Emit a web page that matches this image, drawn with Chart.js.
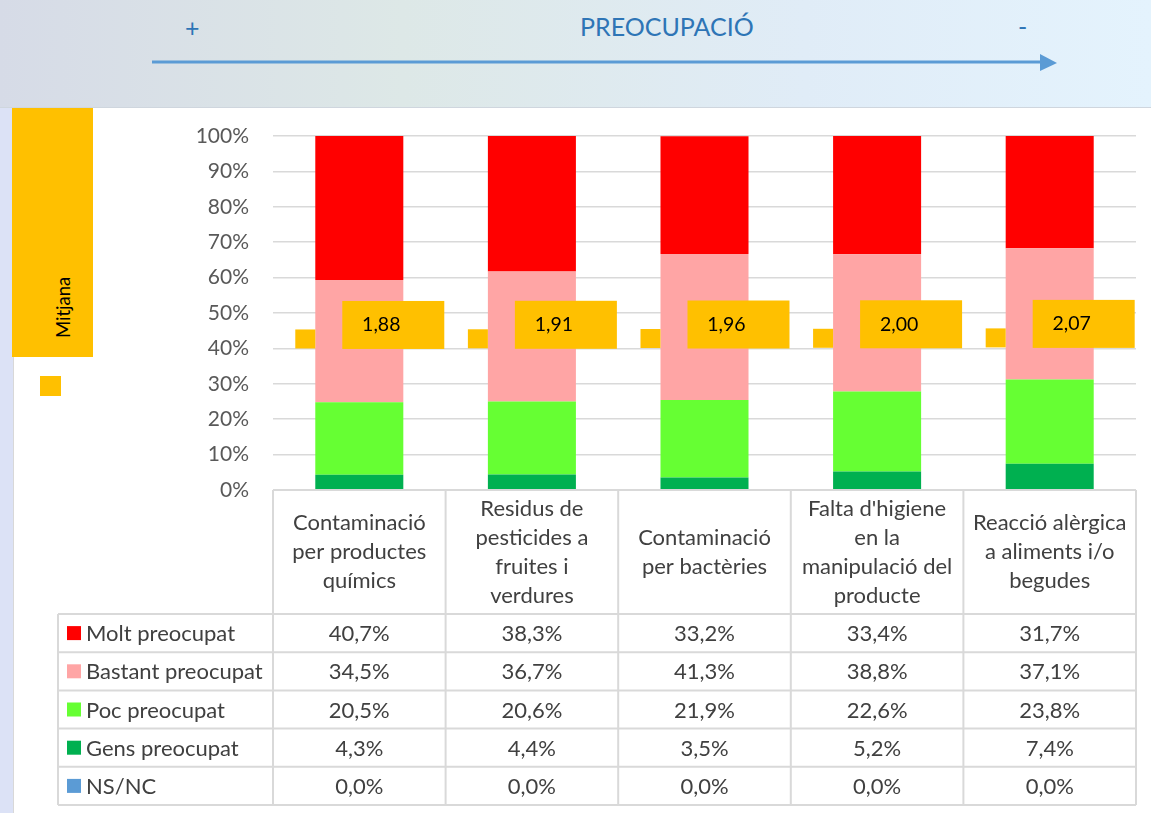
<!DOCTYPE html>
<html>
<head>
<meta charset="utf-8">
<script src="https://cdn.jsdelivr.net/npm/chart.js@4.4.1/dist/chart.umd.min.js"></script>
<style>
  html, body { margin: 0; padding: 0; }
  body { width: 1151px; height: 813px; position: relative; overflow: hidden; background: #dce2f6; font-family: Lato, "Open Sans", sans-serif; }
  #header { position: absolute; left: 0; top: 0; width: 1151px; height: 107px;
    background: linear-gradient(90deg, #d6dbe7 0%, #dde8e7 35%, #e0ecf7 70%, #e4f3fd 100%);
    border-bottom: 1px solid #cfd6de; }
  #panel { position: absolute; left: 13px; top: 108px; width: 1138px; height: 705px; background: #fff; border-left: 1px solid #d8d8d8; }
  .hd { position: absolute; color: #2e75b6; font-size: 25px; line-height: 1; }
  #mitjana { position: absolute; left: 12px; top: 108px; width: 81px; height: 249px; background: #ffc000; }
  #mitjLabel { position: absolute; left: 54px; top: 338px; transform: rotate(-90deg); transform-origin: 0 0;
    font-size: 18.5px; color: #000; line-height: 1; }
  #mitjSq { position: absolute; left: 40px; top: 376px; width: 21px; height: 20px; background: #ffc000; }
  canvas { position: absolute; left: 0; top: 0; }
</style>
</head>
<body>
<div id="header">
  <div class="hd" style="left:185px; top:15px;">+</div>
  <div class="hd" style="left:580px; top:14px;">PREOCUPACIÓ</div>
  <div class="hd" style="left:1018px; top:14px;">-</div>
  <svg width="1151" height="107" style="position:absolute;left:0;top:0">
    <line x1="152" y1="62" x2="1042" y2="62" stroke="#5b9bd5" stroke-width="3"/>
    <polygon points="1040,54 1057,63 1040,71" fill="#5b9bd5"/>
  </svg>
</div>
<div id="panel"></div>
<div id="mitjana"></div>
<div id="mitjLabel">Mitjana</div>
<div id="mitjSq"></div>
<canvas id="chart" width="1151" height="813"></canvas>
<script>
// categories (header lines of the data table)
const categories = [
  ['Contaminació', 'per productes', 'químics'],
  ['Residus de', 'pesticides a', 'fruites i', 'verdures'],
  ['Contaminació', 'per bactèries'],
  ["Falta d'higiene", 'en la', 'manipulació del', 'producte'],
  ['Reacció alèrgica', 'a aliments i/o', 'begudes']
];
const seriesNames = ['Molt preocupat', 'Bastant preocupat', 'Poc preocupat', 'Gens preocupat', 'NS/NC'];
const molt = [40.7, 38.3, 33.2, 33.4, 31.7];
const bastant = [34.5, 36.7, 41.3, 38.8, 37.1];
const poc = [20.5, 20.6, 21.9, 22.6, 23.8];
const gens = [4.3, 4.4, 3.5, 5.2, 7.4];
const nsnc = [0, 0, 0, 0, 0];
const mitjana = [1.88, 1.91, 1.96, 2.00, 2.07];
const yTickStep = 10;

const colors = ['#ff0000', '#ffa5a5', '#66ff33', '#00b050', '#5b9bd5'];
const tableRows = [molt, bastant, poc, gens, nsnc].map((d, i) => ({ name: seriesNames[i], data: d, color: colors[i] }));

const fmt = v => v.toFixed(1).replace('.', ',') + '%';
const FONT = 'Lato, "Open Sans", sans-serif';

// mean markers: small square left of bar, label box over the bar
const meanPlugin = {
  id: 'meanLabels',
  afterDatasetsDraw(chart) {
    const ctx = chart.ctx;
    const meta = chart.getDatasetMeta(0);
    const y2 = chart.scales.y2;
    ctx.save();
    meta.data.forEach((bar, i) => {
      const left = bar.x - bar.width / 2;
      const yc = y2.getPixelForValue(mitjana[i]);
      ctx.fillStyle = '#ffc000';
      ctx.fillRect(left - 20, yc - 9.5, 20, 19);
      ctx.fillRect(left + 27, yc - 38, 102, 48);
      ctx.fillStyle = '#000';
      ctx.font = '19.5px ' + FONT;
      ctx.textAlign = 'center';
      ctx.textBaseline = 'middle';
      ctx.fillText(mitjana[i].toFixed(2).replace('.', ','), left + 66, yc - 14);
    });
    ctx.restore();
  }
};

// data table under the plot, columns follow the category scale
const tablePlugin = {
  id: 'dataTable',
  afterDraw(chart) {
    const ctx = chart.ctx;
    const area = chart.chartArea;
    const n = categories.length;
    const colW = (area.right - area.left) / n;
    const top = area.bottom, headH = 124, rowH = 38.2;
    const legLeft = 58;
    const bottom = top + headH + rowH * tableRows.length;
    ctx.save();
    ctx.strokeStyle = '#d9d9d9';
    ctx.lineWidth = 2;
    ctx.beginPath();
    ctx.moveTo(area.left, top); ctx.lineTo(area.right, top);
    for (let r = 0; r <= tableRows.length; r++) {
      const y = top + headH + r * rowH;
      ctx.moveTo(legLeft, y); ctx.lineTo(area.right, y);
    }
    for (let c = 0; c <= n; c++) {
      const x = area.left + c * colW;
      ctx.moveTo(x, top); ctx.lineTo(x, bottom);
    }
    ctx.moveTo(legLeft, top + headH); ctx.lineTo(legLeft, bottom);
    ctx.stroke();

    ctx.fillStyle = '#404040';
    ctx.font = '22px ' + FONT;
    ctx.textAlign = 'center';
    ctx.textBaseline = 'middle';
    categories.forEach((lines, c) => {
      const cx = area.left + (c + 0.5) * colW;
      const lh = 29;
      const y0 = top + headH / 2 - (lines.length - 1) * lh / 2;
      lines.forEach((t, k) => ctx.fillText(t, cx, y0 + k * lh));
    });
    tableRows.forEach((row, r) => {
      const cy = top + headH + (r + 0.5) * rowH;
      ctx.fillStyle = row.color;
      ctx.fillRect(67, cy - 7, 14, 14);
      ctx.fillStyle = '#404040';
      ctx.textAlign = 'left';
      ctx.fillText(row.name, 86, cy + 1);
      ctx.textAlign = 'center';
      row.data.forEach((v, c) => {
        ctx.fillText(fmt(v), area.left + (c + 0.5) * colW, cy + 1);
      });
    });
    ctx.restore();
  }
};

new Chart(document.getElementById('chart'), {
  type: 'bar',
  data: {
    labels: categories,
    datasets: [
      { label: seriesNames[3], data: gens, backgroundColor: colors[3] },
      { label: seriesNames[2], data: poc, backgroundColor: colors[2] },
      { label: seriesNames[1], data: bastant, backgroundColor: colors[1] },
      { label: seriesNames[0], data: molt, backgroundColor: colors[0] },
      { label: seriesNames[4], data: nsnc, backgroundColor: colors[4] }
    ]
  },
  options: {
    responsive: false,
    animation: false,
    devicePixelRatio: 1,
    layout: { padding: { left: 173, right: 15, top: 136, bottom: 323 } },
    datasets: { bar: { categoryPercentage: 1, barPercentage: 0.51 } },
    plugins: { legend: { display: false }, tooltip: { enabled: false } },
    scales: {
      x: { stacked: true, display: false },
      y: {
        stacked: true, min: 0, max: 100,
        afterFit: s => { s.width = 100; },
        border: { display: false },
        grid: { color: '#d9d9d9', lineWidth: 1.5, drawTicks: false },
        ticks: { stepSize: yTickStep, padding: 24, color: '#595959', font: { family: FONT, size: 21 }, callback: v => v + '%' }
      },
      y2: { display: false, min: -25, max: 38 }
    }
  },
  plugins: [meanPlugin, tablePlugin]
});
</script>
</body>
</html>
